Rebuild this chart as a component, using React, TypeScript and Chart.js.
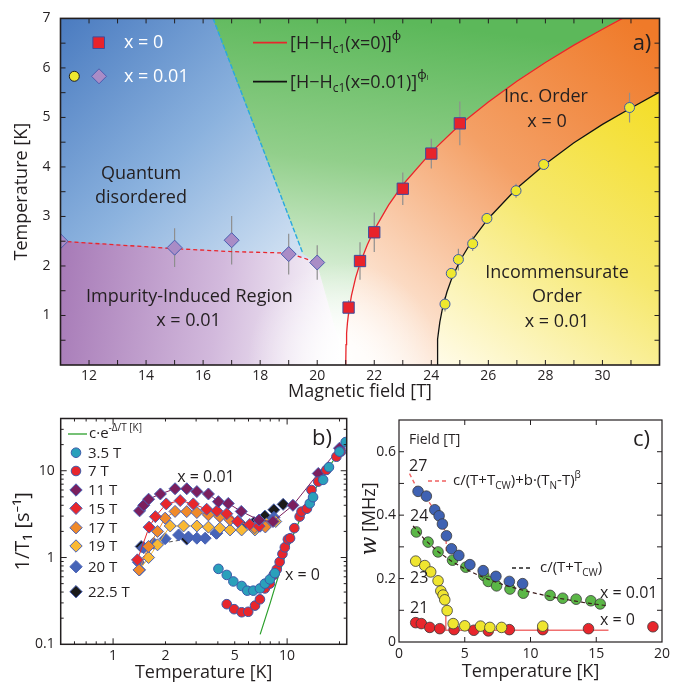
import React, { useEffect, useRef } from "react";
import { Chart, registerables } from "chart.js";

Chart.register(...registerables);

const FONT = "'Open Sans', 'Noto Sans', 'DejaVu Sans', sans-serif";
const INK = "#231f20";

/* ================= Panel a) data ================= */
const A_X_TICKS = [12, 14, 16, 18, 20, 22, 24, 26, 28, 30];
const A_Y_TICKS = [1, 2, 3, 4, 5, 6, 7];

const SQ_H = [21.1, 21.5, 22, 23, 24, 25];
const SQ_T = [1.16, 2.1, 2.68, 3.56, 4.27, 4.88];
const SQ_ERR = [0.15, 0.38, 0.4, 0.33, 0.3, 0.44];

const DI_H = [11, 15, 17, 19, 20];
const DI_T = [2.5, 2.37, 2.52, 2.24, 2.07];
const DI_ERR = [0, 0.39, 0.49, 0.41, 0.35];

const CI_H = [24.48, 24.7, 24.95, 25.45, 25.95, 26.97, 27.94, 30.95];
const CI_T = [1.23, 1.85, 2.13, 2.45, 2.96, 3.52, 4.05, 5.2];
const CI_ERR = [0.15, 0.1, 0.22, 0.15, 0.1, 0.14, 0.08, 0.3];

const FIT_X0_H = [21, 21.01, 21.03, 21.06, 21.1, 21.2, 21.35, 21.5, 21.75, 22, 22.5, 23, 24, 25, 26, 27, 28, 29, 30, 30.7];
const FIT_X0_T = [0, 0.41, 0.64, 0.85, 1.05, 1.4, 1.77, 2.05, 2.42, 2.73, 3.23, 3.64, 4.3, 4.85, 5.31, 5.73, 6.11, 6.46, 6.78, 7.0];
const FIT_X1_H = [24.2, 24.21, 24.23, 24.26, 24.3, 24.4, 24.55, 24.7, 25, 25.5, 26, 27, 28, 29, 30, 31, 32];
const FIT_X1_T = [0, 0.33, 0.52, 0.7, 0.87, 1.17, 1.48, 1.72, 2.1, 2.58, 2.96, 3.57, 4.06, 4.49, 4.86, 5.19, 5.51];
const IMP_H = [11, 15, 17, 19, 20];
const IMP_T = [2.5, 2.35, 2.29, 2.26, 2.07];
const QD_H = [16.35, 19.5];
const QD_T = [7, 2.25];

/* ================= Panel b) data ================= */
const B_X_TICKS = [1, 2, 5, 10];
const B_Y_TICKS = [0.1, 1, 10];
const B_LEGEND = ["3.5 T", "7 T", "11 T", "15 T", "17 T", "19 T", "20 T", "22.5 T"];

const B35_T = [4.03, 4.5, 4.91, 5.48, 5.9, 6.39, 6.98, 7.45, 7.96, 8.5, 13.5, 14.1, 16.1, 17.4, 20.0, 21.7];
const B35_R = [0.74, 0.63, 0.53, 0.47, 0.415, 0.415, 0.44, 0.5, 0.56, 0.66, 4.2, 4.96, 7.85, 11.0, 16.6, 21.4];
const B7_T = [4.5, 4.96, 5.48, 5.98, 6.54, 6.98, 7.45, 7.96, 8.37, 8.72, 9.06, 9.4, 9.7, 10.1, 10.4, 11.0, 11.8, 12.1, 13.0, 13.8, 15.1, 16.8, 19.2, 20.4];
const B7_R = [0.29, 0.254, 0.234, 0.237, 0.279, 0.33, 0.44, 0.5, 0.63, 0.73, 0.89, 1.1, 1.31, 1.62, 1.67, 2.18, 2.96, 3.38, 3.65, 6.0, 7.5, 10.2, 14.5, 16.6];
const FIT_EXP_T = [7, 7.5, 8, 8.5, 9, 9.5, 10, 11, 12, 13, 14, 15, 16, 17, 18, 19, 20];
const FIT_EXP_R = [0.13, 0.2, 0.3, 0.45, 0.65, 0.9, 1.2, 1.95, 2.9, 4.1, 5.4, 6.9, 8.5, 10.3, 12.2, 14.3, 16.5];

const B11_T = [1.42, 1.5, 1.6, 1.87, 2.27, 2.65, 3.03, 3.53, 4.03, 4.59, 5.45, 6.9, 8.3, 10.8, 15.1, 20.0];
const B11_R = [3.45, 4.0, 4.7, 5.4, 6.2, 6.2, 5.75, 5.4, 4.4, 4.2, 3.4, 2.7, 2.6, 4.0, 9.3, 18.2];
const B15_T = [1.38, 1.61, 1.75, 2.02, 2.43, 2.89, 3.45, 3.95, 4.5, 5.2, 6.1, 6.9];
const B15_R = [0.94, 2.24, 2.96, 4.15, 4.53, 4.15, 3.6, 3.45, 3.2, 2.6, 2.4, 2.3];
const B17_T = [1.41, 1.6, 1.8, 1.99, 2.27, 2.65, 3.03, 3.53, 4.11, 4.7, 5.24, 6.5, 7.5];
const B17_R = [0.72, 1.34, 2.0, 2.84, 3.4, 3.38, 3.3, 3.1, 2.96, 2.72, 2.6, 2.2, 2.25];
const B19_T = [1.42, 1.6, 1.8, 2.13, 2.54, 3.03, 3.53, 4.11, 4.7, 5.48, 6.53, 7.62, 8.6];
const B19_R = [0.72, 1.0, 1.4, 2.31, 2.31, 2.31, 2.24, 2.18, 2.08, 2.08, 2.08, 2.45, 2.6];
const B20_T = [1.4, 1.5, 1.71, 1.99, 2.38, 2.71, 3.03, 3.38, 3.91, 7.0, 8.4];
const B20_R = [0.88, 1.3, 1.46, 1.65, 1.82, 1.72, 1.67, 1.67, 1.91, 2.3, 2.9];
const B225_T = [1.45, 2.65, 3.94, 5.55, 6.45, 7.45, 8.39, 9.49];
const B225_R = [1.34, 1.63, 1.91, 2.31, 2.53, 3.0, 3.55, 4.1];
const B225_FIT_T = [1.45, 2.65, 3.94];
const B225_FIT_R = [1.34, 1.63, 1.91];

/* ================= Panel c) data ================= */
const C_X_TICKS = [0, 5, 10, 15, 20];
const C_Y_TICKS = [0, 0.2, 0.4, 0.6];

const C27_T = [1.45, 2.08, 2.72, 3.05, 3.3, 3.61, 3.99, 4.55, 5.39, 6.4, 7.37, 8.39, 9.4];
const C27_W = [0.475, 0.46, 0.417, 0.398, 0.372, 0.335, 0.294, 0.273, 0.244, 0.225, 0.207, 0.191, 0.184];
const C24_T = [1.32, 2.21, 2.97, 4.07, 5.08, 6.45, 6.79, 7.42, 8.44, 9.45, 11.49, 12.45, 13.47, 14.59, 15.3];
const C24_W = [0.347, 0.315, 0.284, 0.258, 0.236, 0.21, 0.191, 0.177, 0.167, 0.154, 0.147, 0.138, 0.135, 0.13, 0.12];
const C23_T = [1.27, 1.96, 2.41, 2.97, 3.18, 3.35, 3.48, 3.66, 4.12, 5.0, 6.2, 6.91, 7.8, 10.93];
const C23_W = [0.255, 0.241, 0.221, 0.193, 0.161, 0.148, 0.133, 0.099, 0.058, 0.051, 0.05, 0.046, 0.046, 0.05];
const C21_T = [1.27, 1.7, 2.34, 3.1, 4.19, 5.69, 6.79, 8.39, 10.93, 14.41, 19.31];
const C21_W = [0.061, 0.058, 0.046, 0.042, 0.039, 0.037, 0.035, 0.039, 0.039, 0.042, 0.048];
const FIT27_T = [0.8, 1.3, 1.8, 2.3, 2.8, 3.2, 3.45, 3.58, 3.6];
const FIT27_W = [0.531, 0.49, 0.468, 0.44, 0.41, 0.38, 0.355, 0.33, 0.28];
const FITCW_T = [1.07, 2, 3, 4, 5, 6, 7, 8, 9, 10, 11, 12, 13, 14, 15, 15.9];
const FITCW_W = [0.366, 0.321, 0.284, 0.255, 0.231, 0.211, 0.194, 0.18, 0.168, 0.157, 0.148, 0.139, 0.132, 0.125, 0.119, 0.114];
const FIT21_T = [3.56, 3.56, 15.93];
const FIT21_W = [0.09, 0.037, 0.037];

/* ================= helpers ================= */
const zip = (xs: number[], ys: number[]) => xs.map((x, i) => ({ x, y: ys[i] }));

type Run = { t: string; s: number; dy?: number; st?: string; f?: string };
function rich(ctx: any, x: number, y: number, runs: Run[], align = "left", color = INK) {
  ctx.save();
  ctx.fillStyle = color;
  ctx.textBaseline = "middle";
  ctx.textAlign = "left";
  const fontOf = (r: Run) => `${r.st || ""} ${r.s}px ${r.f || FONT}`;
  let w = 0;
  for (const r of runs) {
    ctx.font = fontOf(r);
    w += ctx.measureText(r.t).width;
  }
  let cx = align === "left" ? x : align === "center" ? x - w / 2 : x - w;
  for (const r of runs) {
    ctx.font = fontOf(r);
    ctx.fillText(r.t, cx, y + (r.dy || 0));
    cx += ctx.measureText(r.t).width;
  }
  ctx.restore();
}
const txt = (ctx: any, s: string, x: number, y: number, size: number, align = "center", color = INK) =>
  rich(ctx, x, y, [{ t: s, s: size }], align, color);

function frame(chart: any, lw: number) {
  const { ctx, chartArea: ca } = chart;
  ctx.save();
  ctx.strokeStyle = INK;
  ctx.lineWidth = lw;
  ctx.strokeRect(ca.left, ca.top, ca.right - ca.left, ca.bottom - ca.top);
  ctx.restore();
}
function ticks(chart: any, xt: number[][], yt: number[][]) {
  const { ctx, chartArea: ca, scales } = chart;
  ctx.save();
  ctx.strokeStyle = INK;
  ctx.lineWidth = 1;
  ctx.beginPath();
  for (const [v, len] of xt) {
    const X = scales.x.getPixelForValue(v);
    if (X <= ca.left + 1 || X >= ca.right - 1) continue;
    ctx.moveTo(X, ca.bottom);
    ctx.lineTo(X, ca.bottom - len);
    ctx.moveTo(X, ca.top);
    ctx.lineTo(X, ca.top + len);
  }
  for (const [v, len] of yt) {
    const Y = scales.y.getPixelForValue(v);
    if (Y <= ca.top + 1 || Y >= ca.bottom - 1) continue;
    ctx.moveTo(ca.left, Y);
    ctx.lineTo(ca.left + len, Y);
    ctx.moveTo(ca.right, Y);
    ctx.lineTo(ca.right - len, Y);
  }
  ctx.stroke();
  ctx.restore();
}
function marker(ctx: any, kind: string, x: number, y: number, r: number, fill: string, stroke: string) {
  ctx.save();
  ctx.fillStyle = fill;
  ctx.strokeStyle = stroke;
  ctx.lineWidth = 1;
  ctx.beginPath();
  if (kind === "circle") ctx.arc(x, y, r, 0, Math.PI * 2);
  else if (kind === "rect") ctx.rect(x - r, y - r, 2 * r, 2 * r);
  else {
    ctx.moveTo(x, y - r);
    ctx.lineTo(x + r, y);
    ctx.lineTo(x, y + r);
    ctx.lineTo(x - r, y);
    ctx.closePath();
  }
  ctx.fill();
  ctx.stroke();
  ctx.restore();
}
function logMinor(min: number, max: number) {
  const out: number[] = [];
  for (let e = Math.floor(Math.log10(min)); e <= Math.ceil(Math.log10(max)); e++)
    for (let m = 1; m < 10; m++) {
      const v = m * Math.pow(10, e);
      if (v >= min && v <= max) out.push(v);
    }
  return out;
}
const tickFont = (size: number) => ({ family: FONT, size });
const fixedTicks = (vals: number[]) => (s: any) => {
  s.ticks = vals.map((v) => ({ value: v }));
};
const NOGRID = { display: false, drawTicks: false };

/* ================= Panel a) ================= */
const panelAPlugin = {
  id: "panelA",
  beforeDatasetsDraw(chart: any) {
    const { ctx, chartArea: ca, scales } = chart;
    const px = (h: number, t: number) => [scales.x.getPixelForValue(h), scales.y.getPixelForValue(t)];
    ctx.save();
    ctx.beginPath();
    ctx.rect(ca.left, ca.top, ca.right - ca.left, ca.bottom - ca.top);
    ctx.clip();
    const poly = (pts: number[][], fill: any) => {
      ctx.beginPath();
      pts.forEach((p, i) => {
        const [X, Y] = px(p[0], p[1]);
        if (i) ctx.lineTo(X, Y);
        else ctx.moveTo(X, Y);
      });
      ctx.closePath();
      ctx.fillStyle = fill;
      ctx.fill();
      ctx.strokeStyle = fill;
      ctx.lineWidth = 1;
      ctx.stroke();
    };
    const lin = (a: number[], b: number[], stops: any[]) => {
      const [x0, y0] = px(a[0], a[1]);
      const [x1, y1] = px(b[0], b[1]);
      const g = ctx.createLinearGradient(x0, y0, x1, y1);
      stops.forEach(([o, c]: any) => g.addColorStop(o, c));
      return g;
    };
    const red = FIT_X0_H.map((h, i) => [h, FIT_X0_T[i]]);
    const blk = FIT_X1_H.map((h, i) => [h, FIT_X1_T[i]]);
    const imp = IMP_H.map((h, i) => [h, IMP_T[i]]);
    const qd = QD_H.map((h, i) => [h, QD_T[i]]);
    const redTop = red[red.length - 1];
    const blkEnd = blk[blk.length - 1];
    const impEnd = imp[imp.length - 1];

    poly([[11, 7], ...qd, impEnd, ...imp.slice().reverse()],
      lin([11, 7], [19.8, 1.8], [[0, "#4a7bc0"], [0.5, "#8bb2de"], [1, "#dde9f6"]]));
    poly([[11, 0], ...imp, [21, 0]],
      lin([11, 1.5], [21, 0.8], [[0, "#a87cb8"], [0.55, "#d2b9dc"], [1, "#ffffff"]]));
    poly([qd[0], redTop, ...red.slice().reverse(), impEnd, qd[1]],
      lin([22, 7], [20.6, 0.5], [[0, "#5cb85a"], [0.45, "#92cf8b"], [1, "#ffffff"]]));
    poly([...red, [32, 7], blkEnd, ...blk.slice().reverse()],
      lin([31.5, 6.8], [21.6, 0.2], [[0, "#ef7a29"], [0.45, "#f4a066"], [1, "#fff8f2"]]));
    poly([...blk, [32, 0]],
      lin([32, 6], [24.5, 0], [[0, "#f4dc1d"], [0.5, "#f6e86c"], [1, "#fffbe6"]]));

    const [cx, cy] = px(20.9, 0.15);
    const rg = ctx.createRadialGradient(cx, cy, 0, cx, cy, 95);
    rg.addColorStop(0, "rgba(255,255,255,0.9)");
    rg.addColorStop(1, "rgba(255,255,255,0)");
    ctx.fillStyle = rg;
    ctx.fillRect(ca.left, ca.top, ca.right - ca.left, ca.bottom - ca.top);

    // error bars
    ctx.strokeStyle = "#8e8e8e";
    ctx.lineWidth = 1.2;
    ctx.beginPath();
    const eb = (H: number[], T: number[], E: number[]) =>
      H.forEach((h, i) => {
        if (!E[i]) return;
        const [X, Y0] = px(h, T[i] - E[i]);
        const [, Y1] = px(h, T[i] + E[i]);
        ctx.moveTo(X, Y0);
        ctx.lineTo(X, Y1);
      });
    eb(SQ_H, SQ_T, SQ_ERR);
    eb(DI_H, DI_T, DI_ERR);
    eb(CI_H, CI_T, CI_ERR);
    ctx.stroke();
    ctx.restore();
  },
  afterDraw(chart: any) {
    const { ctx } = chart;
    frame(chart, 1.6);
    const xt: number[][] = [];
    for (let v = 12; v <= 31; v++) xt.push([v, 5]);
    const yt: number[][] = [];
    for (let v = 0.5; v < 7; v += 0.5) yt.push([v, 5]);
    ticks(chart, xt, yt);

    // legend (left)
    marker(ctx, "rect", 98.7, 42.7, 5.8, "#e8232b", "#3b4ea0");
    marker(ctx, "circle", 74.3, 76.3, 5, "#efe82e", "#222");
    marker(ctx, "diamond", 99, 76.3, 7.5, "#a98cc6", "#4a5db0");
    txt(ctx, "x = 0", 124, 43, 18, "left", "#ffffff");
    txt(ctx, "x = 0.01", 124, 76.5, 18, "left", "#ffffff");
    // legend (right)
    ctx.save();
    ctx.lineWidth = 1.8;
    ctx.strokeStyle = "#e8262c";
    ctx.beginPath();
    ctx.moveTo(253, 42.7);
    ctx.lineTo(287, 42.7);
    ctx.stroke();
    ctx.strokeStyle = "#111";
    ctx.beginPath();
    ctx.moveTo(253, 81.7);
    ctx.lineTo(287, 81.7);
    ctx.stroke();
    ctx.restore();
    rich(ctx, 290, 44, [
      { t: "[H\u2212H", s: 18 },
      { t: "c1", s: 12, dy: 6 },
      { t: "(x=0)]", s: 18 },
      { t: "\u03d5", s: 13, dy: -8 },
    ]);
    rich(ctx, 290, 83, [
      { t: "[H\u2212H", s: 18 },
      { t: "c1", s: 12, dy: 6 },
      { t: "(x=0.01)]", s: 18 },
      { t: "\u03d5", s: 13, dy: -8 },
      { t: "I", s: 7, dy: -5 },
    ]);
    // region labels
    txt(ctx, "Quantum", 141, 174, 18);
    txt(ctx, "disordered", 141, 198, 18);
    txt(ctx, "Impurity-Induced Region", 189.5, 297, 18);
    txt(ctx, "x = 0.01", 188.5, 321, 18);
    txt(ctx, "Inc. Order", 546, 97, 18);
    txt(ctx, "x = 0", 547, 122, 18);
    txt(ctx, "Incommensurate", 557, 273, 18);
    txt(ctx, "Order", 557, 297, 18);
    txt(ctx, "x = 0.01", 557, 321.5, 18);
    txt(ctx, "a)", 642, 44, 22);
  },
};

function makePanelA() {
  return {
    type: "scatter",
    data: {
      datasets: [
        { label: "x = 0", data: zip(SQ_H, SQ_T), pointStyle: "rect", pointRadius: 8, backgroundColor: "#e8232b", borderColor: "#3b4ea0", borderWidth: 1, order: 1 },
        { label: "x = 0.01 (T1)", data: zip(DI_H, DI_T), pointStyle: "rectRot", pointRadius: 7.5, backgroundColor: "#a98cc6", borderColor: "#4a5db0", borderWidth: 1, order: 1 },
        { label: "x = 0.01 (NMR)", data: zip(CI_H, CI_T), pointStyle: "circle", pointRadius: 5, backgroundColor: "#efe82e", borderColor: "#3d5aa8", borderWidth: 1, order: 1 },
        { label: "[H-Hc1(x=0)]^phi", data: zip(FIT_X0_H, FIT_X0_T), showLine: true, pointRadius: 0, borderColor: "#e8262c", borderWidth: 1.3, order: 2 },
        { label: "[H-Hc1(x=0.01)]^phi1", data: zip(FIT_X1_H, FIT_X1_T), showLine: true, pointRadius: 0, borderColor: "#111111", borderWidth: 1.3, order: 2 },
        { label: "impurity boundary", data: zip(IMP_H, IMP_T), showLine: true, pointRadius: 0, borderColor: "#e8262c", borderWidth: 1.3, borderDash: [4, 3], order: 3 },
        { label: "qd boundary", data: zip(QD_H, QD_T), showLine: true, pointRadius: 0, borderColor: "#29a8e0", borderWidth: 1.4, borderDash: [5, 2], order: 3 },
      ],
    },
    options: {
      responsive: false,
      animation: false,
      layout: { padding: { top: 13, right: 15.5, left: 0, bottom: 0 } },
      plugins: { legend: { display: false }, tooltip: { enabled: false } },
      scales: {
        x: {
          type: "linear", min: 11, max: 32,
          grid: NOGRID, border: { display: false },
          afterBuildTicks: fixedTicks(A_X_TICKS),
          afterFit: (s: any) => { s.height = 40; },
          ticks: { font: tickFont(14), color: INK, padding: 3, maxRotation: 0, autoSkip: false },
          title: { display: true, text: "Magnetic field [T]", font: { family: FONT, size: 18 }, color: INK, padding: { top: 0, bottom: 2 } },
        },
        y: {
          type: "linear", min: 0, max: 7,
          grid: NOGRID, border: { display: false },
          afterBuildTicks: fixedTicks(A_Y_TICKS),
          afterFit: (s: any) => { s.width = 60.5; },
          ticks: { font: tickFont(14), color: INK, padding: 10, autoSkip: false },
          title: { display: true, text: "Temperature [K]", font: { family: FONT, size: 18 }, color: INK, padding: { top: 11, bottom: 0 } },
        },
      },
    },
    plugins: [panelAPlugin],
  };
}

/* ================= Panel b) ================= */
const B_STYLE = [
  { kind: "circle", fill: "#2aa0bb", stroke: "#3b5aa9" },
  { kind: "circle", fill: "#e8262c", stroke: "#3b5aa9" },
  { kind: "diamond", fill: "#7b1f5e", stroke: "#4a62b5" },
  { kind: "diamond", fill: "#e8262c", stroke: "#4a62b5" },
  { kind: "diamond", fill: "#f08a2a", stroke: "#4a62b5" },
  { kind: "diamond", fill: "#f9b934", stroke: "#4a62b5" },
  { kind: "diamond", fill: "#4664b8", stroke: "#4a62b5" },
  { kind: "diamond", fill: "#1a1a1a", stroke: "#4a62b5" },
];

const panelBPlugin = {
  id: "panelB",
  afterDraw(chart: any) {
    const { ctx } = chart;
    frame(chart, 1.5);
    const xs = chart.scales.x, ys = chart.scales.y;
    const xt = logMinor(xs.min, xs.max).map((v) => [v, [1, 10].includes(v) ? 6 : 3]);
    const yt = logMinor(ys.min, ys.max).map((v) => [v, [0.1, 1, 10].includes(+v.toPrecision(3)) ? 6 : 3]);
    ticks(chart, xt, yt);
    // legend
    ctx.save();
    ctx.strokeStyle = "#2ca02c";
    ctx.lineWidth = 1.3;
    ctx.beginPath();
    ctx.moveTo(68, 34);
    ctx.lineTo(87, 34);
    ctx.stroke();
    ctx.restore();
    rich(ctx, 89, 34, [
      { t: "c\u00b7e", s: 15 },
      { t: "-\u0394/T [K]", s: 10, dy: -6 },
    ]);
    const ly = [52.7, 71, 90, 108.3, 127.7, 146, 166.7, 191.7];
    B_LEGEND.forEach((lab, i) => {
      const st = B_STYLE[i];
      marker(ctx, st.kind, 76, ly[i], st.kind === "circle" ? 4.8 : 6.2, st.fill, st.stroke);
      txt(ctx, lab, 88, ly[i] + 1, 15, "left");
    });
    txt(ctx, "b)", 322, 39, 22);
    txt(ctx, "x = 0.01", 206, 77, 16);
    txt(ctx, "x = 0", 302.5, 175, 16);
  },
};

function makePanelB() {
  const dia = (i: number, T: number[], R: number[], line: boolean, label: string) => ({
    label,
    data: zip(T, R),
    showLine: line,
    pointStyle: "rectRot",
    pointRadius: 6,
    backgroundColor: B_STYLE[i].fill,
    borderColor: B_STYLE[i].stroke,
    pointBorderColor: B_STYLE[i].stroke,
    pointBackgroundColor: B_STYLE[i].fill,
    borderWidth: 1,
    order: 1,
  });
  const withLine = (ds: any, color: string) => ({ ...ds, borderColor: color, pointBorderColor: "#4a62b5" });
  return {
    type: "scatter",
    data: {
      datasets: [
        { label: B_LEGEND[0], data: zip(B35_T, B35_R), pointStyle: "circle", pointRadius: 4.8, backgroundColor: B_STYLE[0].fill, borderColor: B_STYLE[0].stroke, borderWidth: 1, order: 0 },
        { label: B_LEGEND[1], data: zip(B7_T, B7_R), pointStyle: "circle", pointRadius: 4.8, backgroundColor: B_STYLE[1].fill, borderColor: B_STYLE[1].stroke, borderWidth: 1, order: 1 },
        { label: "c e^-D/T", data: zip(FIT_EXP_T, FIT_EXP_R), showLine: true, pointRadius: 0, borderColor: "#2ca02c", borderWidth: 1.2, order: 2 },
        withLine(dia(2, B11_T, B11_R, true, B_LEGEND[2]), "#7b1f5e"),
        withLine(dia(3, B15_T, B15_R, true, B_LEGEND[3]), "#e8262c"),
        withLine(dia(4, B17_T, B17_R, true, B_LEGEND[4]), "#f08a2a"),
        withLine(dia(5, B19_T, B19_R, true, B_LEGEND[5]), "#f9b934"),
        dia(6, B20_T, B20_R, false, B_LEGEND[6]),
        dia(7, B225_T, B225_R, false, B_LEGEND[7]),
        { label: "22.5 T fit", data: zip(B225_FIT_T, B225_FIT_R), showLine: true, pointRadius: 0, borderColor: "#555555", borderWidth: 1, borderDash: [4, 3], order: 3 },
      ],
    },
    options: {
      responsive: false,
      animation: false,
      layout: { padding: { top: 18.5, right: 13.3, left: 0, bottom: 0 } },
      plugins: { legend: { display: false }, tooltip: { enabled: false } },
      scales: {
        x: {
          type: "logarithmic", min: 0.5, max: 22,
          grid: NOGRID, border: { display: false },
          afterBuildTicks: fixedTicks(B_X_TICKS),
          afterFit: (s: any) => { s.height = 40.7; },
          ticks: { font: tickFont(14), color: INK, padding: 3, maxRotation: 0, autoSkip: false, callback: (v: any) => String(v) },
          title: { display: true, text: "Temperature [K]", font: { family: FONT, size: 18 }, color: INK, padding: { top: 0, bottom: 1 } },
        },
        y: {
          type: "logarithmic", min: 0.1, max: 40,
          grid: NOGRID, border: { display: false },
          afterBuildTicks: fixedTicks(B_Y_TICKS),
          afterFit: (s: any) => { s.width = 60.7; },
          ticks: { font: tickFont(14), color: INK, padding: 6, autoSkip: false, callback: (v: any) => String(v) },
          title: { display: true, text: "1/T\u2081 [s\u207b\u00b9]", font: { family: FONT, size: 20 }, color: INK, padding: { top: 11, bottom: 0 } },
        },
      },
    },
    plugins: [panelBPlugin],
  };
}

/* ================= Panel c) ================= */
const panelCPlugin = {
  id: "panelC",
  afterDraw(chart: any) {
    const { ctx, chartArea: ca } = chart;
    frame(chart, 1.2);
    const xt = [5, 10, 15].map((v) => [v, 5]);
    const yt = [0.1, 0.2, 0.3, 0.4, 0.5, 0.6].map((v) => [v, 5]);
    ticks(chart, xt, yt);
    // y-axis title
    ctx.save();
    ctx.translate(10, (ca.top + ca.bottom) / 2 - 12);
    ctx.rotate(-Math.PI / 2);
    rich(ctx, 0, 0, [
      { t: "w", s: 22, st: "italic", f: "'DejaVu Serif', serif" },
      { t: " [MHz]", s: 18 },
    ], "center");
    ctx.restore();
    txt(ctx, "Field [T]", 49, 40, 14, "left");
    txt(ctx, "27", 49, 66, 16, "left");
    txt(ctx, "24", 50, 116, 16, "left");
    txt(ctx, "23", 50, 178, 16, "left");
    txt(ctx, "21", 50, 208.5, 16, "left");
    txt(ctx, "c)", 281.5, 40, 22);
    txt(ctx, "x = 0.01", 240, 193.5, 16, "left");
    txt(ctx, "x = 0", 240, 220, 16, "left");
    // legend
    ctx.save();
    ctx.lineWidth = 1.3;
    ctx.setLineDash([4, 3]);
    ctx.strokeStyle = "#f06060";
    ctx.beginPath();
    ctx.moveTo(68, 81);
    ctx.lineTo(88, 81);
    ctx.stroke();
    ctx.strokeStyle = "#222";
    ctx.beginPath();
    ctx.moveTo(152, 168);
    ctx.lineTo(172, 168);
    ctx.stroke();
    ctx.restore();
    rich(ctx, 93, 81, [
      { t: "c/(T+T", s: 15 },
      { t: "CW", s: 10, dy: 5 },
      { t: ")+b\u00b7(T", s: 15 },
      { t: "N", s: 10, dy: 5 },
      { t: "-T)", s: 15 },
      { t: "\u03b2", s: 10, dy: -6 },
    ]);
    rich(ctx, 180, 168, [
      { t: "c/(T+T", s: 15 },
      { t: "CW", s: 10, dy: 5 },
      { t: ")", s: 15 },
    ]);
  },
};

function makePanelC() {
  const circ = (T: number[], W: number[], fill: string, label: string) => ({
    label, data: zip(T, W), pointStyle: "circle", pointRadius: 5.3,
    backgroundColor: fill, borderColor: "#3a3a3a", borderWidth: 0.8, order: 1,
  });
  return {
    type: "scatter",
    data: {
      datasets: [
        circ(C27_T, C27_W, "#3f62b3", "27 T"),
        circ(C24_T, C24_W, "#5bb747", "24 T"),
        circ(C23_T, C23_W, "#efe52f", "23 T"),
        circ(C21_T, C21_W, "#e8262c", "21 T"),
        { label: "fit 27 T", data: zip(FIT27_T, FIT27_W), showLine: true, pointRadius: 0, borderColor: "#f06060", borderWidth: 1.3, borderDash: [4, 3], order: 2 },
        { label: "fit c/(T+Tcw)", data: zip(FITCW_T, FITCW_W), showLine: true, pointRadius: 0, borderColor: "#3a1a1a", borderWidth: 1.2, borderDash: [4, 3], order: 0 },
        { label: "fit x = 0", data: zip(FIT21_T, FIT21_W), showLine: true, pointRadius: 0, borderColor: "#f07070", borderWidth: 1.5, order: 2 },
      ],
    },
    options: {
      responsive: false,
      animation: false,
      layout: { padding: { top: 20, right: 13, left: 0, bottom: 0 } },
      plugins: { legend: { display: false }, tooltip: { enabled: false } },
      scales: {
        x: {
          type: "linear", min: 0, max: 20,
          grid: NOGRID, border: { display: false },
          afterBuildTicks: fixedTicks(C_X_TICKS),
          afterFit: (s: any) => { s.height = 43; },
          ticks: { font: tickFont(14), color: INK, padding: 4, maxRotation: 0, autoSkip: false },
          title: { display: true, text: "Temperature [K]", font: { family: FONT, size: 18 }, color: INK, padding: { top: 0, bottom: 2 } },
        },
        y: {
          type: "linear", min: 0, max: 0.7,
          grid: NOGRID, border: { display: false },
          afterBuildTicks: fixedTicks(C_Y_TICKS),
          afterFit: (s: any) => { s.width = 39; },
          ticks: { font: tickFont(14), color: INK, padding: 3, autoSkip: false, callback: (v: any) => String(v) },
          title: { display: false },
        },
      },
    },
    plugins: [panelCPlugin],
  };
}

/* ================= React ================= */
function ChartCanvas({ left, top, width, height, make }: any) {
  const ref = useRef<HTMLCanvasElement | null>(null);
  useEffect(() => {
    const chart = new Chart(ref.current as any, make());
    return () => chart.destroy();
  }, []);
  return (
    <canvas
      ref={ref}
      width={width}
      height={height}
      style={{ position: "absolute", left, top, width, height }}
    />
  );
}

export default function App() {
  return (
    <div style={{ position: "absolute", left: 0, top: 0, width: 675, height: 685, background: "#ffffff", overflow: "hidden" }}>
      <ChartCanvas left={0} top={0} width={675} height={405} make={makePanelA} />
      <ChartCanvas left={0} top={400} width={360} height={285} make={makePanelB} />
      <ChartCanvas left={360} top={400} width={315} height={285} make={makePanelC} />
    </div>
  );
}
